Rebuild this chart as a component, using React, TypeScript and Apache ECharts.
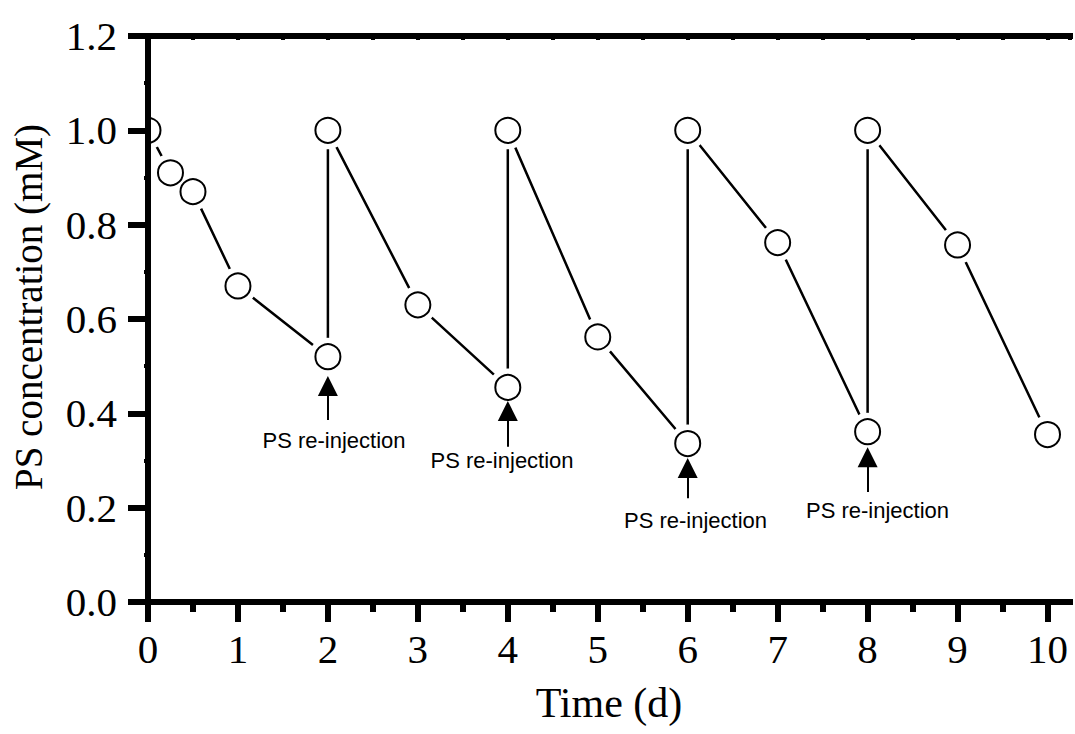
import React, { useEffect, useRef } from "react";
import * as echarts from "echarts";

// Measured series (time in days, PS concentration in mM)
const TIME = [0, 0.25, 0.5, 1, 2, 2, 3, 4, 4, 5, 6, 6, 7, 8, 8, 9, 10];
const CONC = [1.0, 0.91, 0.87, 0.67, 0.52, 1.0, 0.63, 0.455, 1.0, 0.562, 0.336, 1.0, 0.762, 0.361, 1.0, 0.757, 0.355];

// Axis ticks
const X_MAJOR = [0, 1, 2, 3, 4, 5, 6, 7, 8, 9, 10];
const X_MINOR = [0.5, 1.5, 2.5, 3.5, 4.5, 5.5, 6.5, 7.5, 8.5, 9.5];

// Re-injection annotations
const INJECT_DAYS = [2, 4, 6, 8];
const ARROW_HEAD = [0.458, 0.405, 0.284, 0.307];
const ARROW_TAIL = [0.386, 0.329, 0.22, 0.233];
const NOTE_X = [2.068, 3.936, 6.087, 8.11];
const NOTE_Y = [0.343, 0.301, 0.172, 0.193];
const NOTE_TEXT = "PS re-injection";

const SERIF = "'Liberation Serif', 'Times New Roman', serif";
const SANS = "'Liberation Sans', Arial, sans-serif";

export default function App() {
  const ref = useRef<HTMLDivElement>(null);

  useEffect(() => {
    if (!ref.current) return;
    const chart = echarts.init(ref.current, undefined, { renderer: "svg" });
    const points = TIME.map((t, i) => [t, CONC[i]]);

    const option: any = {
      animation: false,
      backgroundColor: "#ffffff",
      grid: { left: 148, right: 5, top: 36, bottom: 132, containLabel: false },
      xAxis: [
        {
          type: "value",
          position: "bottom",
          min: 0,
          max: 10.25,
          interval: 1,
          z: 10,
          name: "Time (d)",
          nameLocation: "middle",
          nameGap: 80,
          nameTextStyle: { fontFamily: SERIF, fontSize: 42, color: "#000" },
          axisLine: { show: true, lineStyle: { color: "#000", width: 6, cap: "square" } },
          axisTick: {
            show: true,
            inside: false,
            length: 20,
            customValues: X_MAJOR,
            lineStyle: { color: "#000", width: 6 },
          },
          axisLabel: {
            show: true,
            customValues: X_MAJOR,
            margin: 26,
            fontFamily: SERIF,
            fontSize: 41,
            color: "#000",
            formatter: (v: number) => (Number.isInteger(v) ? String(v) : ""),
          },
          splitLine: { show: false },
        },
        {
          type: "value",
          position: "bottom",
          min: 0,
          max: 10.25,
          interval: 0.5,
          z: 10,
          axisLine: { show: false },
          axisTick: {
            show: true,
            inside: false,
            length: 10,
            customValues: X_MINOR,
            lineStyle: { color: "#000", width: 6 },
          },
          axisLabel: { show: false },
          splitLine: { show: false },
        },
        {
          type: "value",
          position: "top",
          min: 0,
          max: 10.25,
          interval: 0.5,
          z: 10,
          axisLine: { show: true, lineStyle: { color: "#000", width: 6, cap: "square" } },
          axisTick: { show: true, inside: true, length: 4, lineStyle: { color: "#000", width: 4 } },
          axisLabel: { show: false },
          splitLine: { show: false },
        },
      ],
      yAxis: [
        {
          type: "value",
          position: "left",
          min: 0,
          max: 1.2,
          interval: 0.2,
          z: 10,
          name: "PS concentration (mM)",
          nameLocation: "middle",
          nameRotate: 90,
          nameGap: 100,
          nameTextStyle: { fontFamily: SERIF, fontSize: 39, color: "#000", padding: [0, 0, 0, 24] },
          axisLine: { show: true, lineStyle: { color: "#000", width: 6, cap: "square" } },
          axisTick: { show: true, inside: false, length: 20, lineStyle: { color: "#000", width: 6 } },
          minorTick: { show: true, splitNumber: 2, length: 3, lineStyle: { color: "#000", width: 5 } },
          axisLabel: {
            margin: 31,
            fontFamily: SERIF,
            fontSize: 41,
            color: "#000",
            formatter: (v: number) => v.toFixed(1),
          },
          splitLine: { show: false },
          minorSplitLine: { show: false },
        },
        {
          type: "value",
          position: "right",
          min: 0,
          max: 1.2,
          interval: 0.1,
          z: 10,
          axisLine: { show: true, lineStyle: { color: "#000", width: 6, cap: "square" } },
          axisTick: { show: true, inside: true, length: 4, lineStyle: { color: "#000", width: 4 } },
          axisLabel: { show: false },
          splitLine: { show: false },
        },
      ],
      series: [
        {
          type: "line",
          data: points,
          showSymbol: false,
          symbol: "none",
          z: 2,
          lineStyle: { color: "#000", width: 2.5 },
          silent: true,
          markLine: {
            silent: true,
            symbol: ["none", "triangle"],
            symbolSize: 20,
            label: { show: false },
            lineStyle: { color: "#000", width: 2, type: "solid" },
            itemStyle: { color: "#000" },
            emphasis: { disabled: true },
            data: INJECT_DAYS.map((d, i) => [
              { coord: [d, ARROW_TAIL[i]] },
              { coord: [d, ARROW_HEAD[i]] },
            ]),
          },
          markPoint: {
            silent: true,
            symbol: "circle",
            symbolSize: 1,
            itemStyle: { color: "rgba(0,0,0,0)" },
            label: {
              show: true,
              position: "inside",
              formatter: NOTE_TEXT,
              fontFamily: SANS,
              fontSize: 22,
              color: "#000",
            },
            data: NOTE_X.map((x, i) => ({ coord: [x, NOTE_Y[i]], value: NOTE_TEXT })),
          },
        },
        {
          type: "custom",
          data: points,
          z: 3,
          clip: true,
          silent: true,
          encode: { x: 0, y: 1 },
          renderItem: (_params: any, api: any) => {
            const p = api.coord([api.value(0), api.value(1)]);
            return {
              type: "circle",
              shape: { cx: p[0], cy: p[1], r: 19 },
              style: { fill: "#ffffff", stroke: "none" },
            };
          },
        },
        {
          type: "custom",
          data: points,
          z: 4,
          clip: true,
          silent: true,
          encode: { x: 0, y: 1 },
          renderItem: (_params: any, api: any) => {
            const p = api.coord([api.value(0), api.value(1)]);
            return {
              type: "circle",
              shape: { cx: p[0], cy: p[1], r: 12.5 },
              style: { fill: "#ffffff", stroke: "#000000", lineWidth: 2 },
            };
          },
        },
      ],
    };

    chart.setOption(option);
    return () => chart.dispose();
  }, []);

  return (
    <div
      ref={ref}
      style={{ position: "fixed", left: 0, top: 0, width: 1075, height: 734, background: "#fff" }}
    />
  );
}
